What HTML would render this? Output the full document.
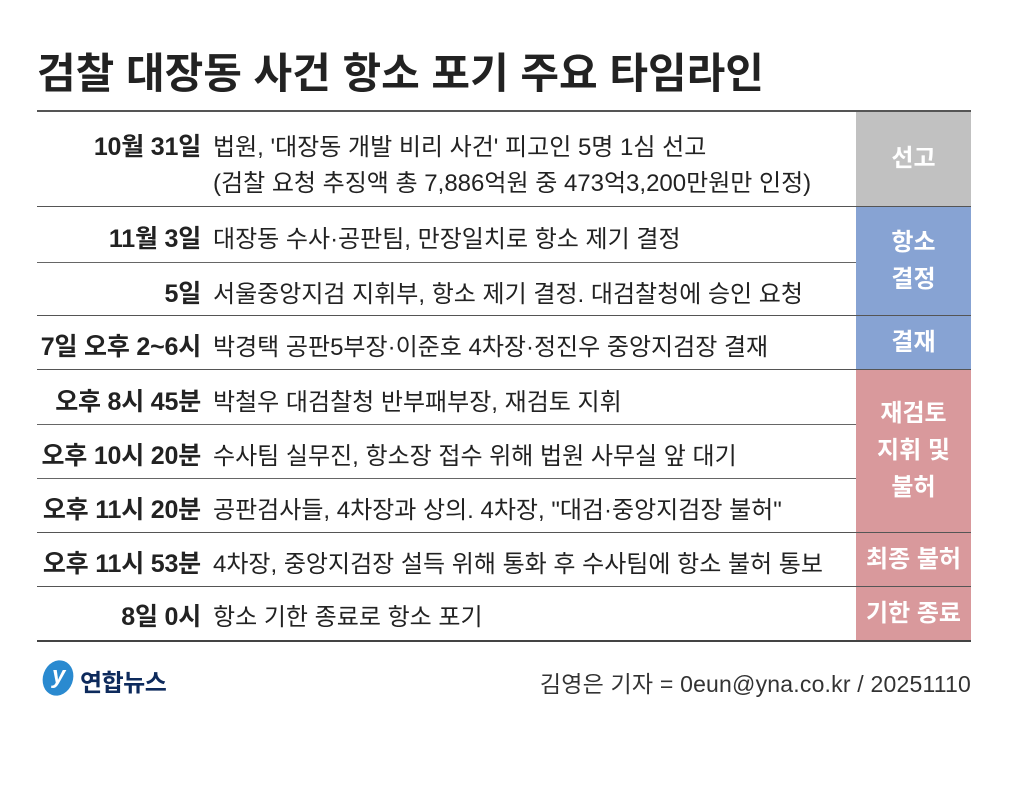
<!DOCTYPE html>
<html><head><meta charset="utf-8"><style>
body{margin:0;width:1009px;height:805px;background:#fff;font-family:"Liberation Sans","Noto Sans CJK KR",sans-serif;position:relative;overflow:hidden;color:#222}
.a{position:absolute;white-space:nowrap}
.t{left:37px;top:40px;font-size:42px;font-weight:bold;letter-spacing:0px;color:#222}
.l{right:808px;font-size:25px;font-weight:bold;letter-spacing:-0.2px}
.d{left:213px;font-size:24px;letter-spacing:0px}
.h{position:absolute;left:37px;height:1px;background:#666}
.tag{position:absolute;left:856px;width:115px;color:#fff;font-weight:bold;font-size:24px;display:flex;align-items:center;justify-content:center;text-align:center;line-height:37px}
</style></head><body>
<div class="a t">검찰 대장동 사건 항소 포기 주요 타임라인</div>
<div class="tag" style="top:111px;height:95px;background:#c1c1c1">선고</div>
<div class="tag" style="top:206px;height:109px;background:#87a3d3">항소<br>결정</div>
<div class="tag" style="top:315px;height:54px;background:#87a3d3">결재</div>
<div class="tag" style="top:369px;height:163px;background:#d9999c">재검토<br>지휘 및<br>불허</div>
<div class="tag" style="top:532px;height:54px;background:#d9999c">최종 불허</div>
<div class="tag" style="top:586px;height:54px;background:#d9999c">기한 종료</div>
<div class="h" style="top:110px;width:934px;height:2px;background:#555"></div>
<div class="h" style="top:206px;width:934px;background:#555"></div>
<div class="h" style="top:262px;width:819px"></div>
<div class="h" style="top:315px;width:934px;background:#555"></div>
<div class="h" style="top:369px;width:934px;background:#555"></div>
<div class="h" style="top:424px;width:819px"></div>
<div class="h" style="top:478px;width:819px"></div>
<div class="h" style="top:532px;width:934px;background:#555"></div>
<div class="h" style="top:586px;width:934px;background:#555"></div>
<div class="h" style="top:640px;width:934px;background:#444;height:2px"></div>
<div class="a l" style="top:127px">10월 31일</div>
<div class="a d" style="top:127px">법원, '대장동 개발 비리 사건' 피고인 5명 1심 선고</div>
<div class="a d" style="top:163px">(검찰 요청 추징액 총 7,886억원 중 473억3,200만원만 인정)</div>
<div class="a l" style="top:219px">11월 3일</div>
<div class="a d" style="top:219px">대장동 수사·공판팀, 만장일치로 항소 제기 결정</div>
<div class="a l" style="top:274px">5일</div>
<div class="a d" style="top:274px">서울중앙지검 지휘부, 항소 제기 결정. 대검찰청에 승인 요청</div>
<div class="a l" style="top:327px">7일 오후 2~6시</div>
<div class="a d" style="top:327px">박경택 공판5부장·이준호 4차장·정진우 중앙지검장 결재</div>
<div class="a l" style="top:382px">오후 8시 45분</div>
<div class="a d" style="top:382px">박철우 대검찰청 반부패부장, 재검토 지휘</div>
<div class="a l" style="top:436px">오후 10시 20분</div>
<div class="a d" style="top:436px">수사팀 실무진, 항소장 접수 위해 법원 사무실 앞 대기</div>
<div class="a l" style="top:490px">오후 11시 20분</div>
<div class="a d" style="top:490px">공판검사들, 4차장과 상의. 4차장, "대검·중앙지검장 불허"</div>
<div class="a l" style="top:544px">오후 11시 53분</div>
<div class="a d" style="top:544px">4차장, 중앙지검장 설득 위해 통화 후 수사팀에 항소 불허 통보</div>
<div class="a l" style="top:597px">8일 0시</div>
<div class="a d" style="top:597px">항소 기한 종료로 항소 포기</div>
<div style="position:absolute;left:43px;top:660px;width:30px;height:36px;border-radius:50%;background:#2a8ad0;transform:rotate(20deg)"></div>
<div class="a" style="left:52px;top:662px;color:#fff;font-size:24px;font-style:italic;font-weight:bold">y</div>
<div class="a" style="left:80px;top:663px;font-size:24px;font-weight:bold;color:#0d2a5c;letter-spacing:-0.5px">연합뉴스</div>
<div class="a" style="right:38px;top:665px;font-size:23px;color:#333;letter-spacing:0.2px">김영은 기자 = 0eun@yna.co.kr / 20251110</div>
</body></html>
